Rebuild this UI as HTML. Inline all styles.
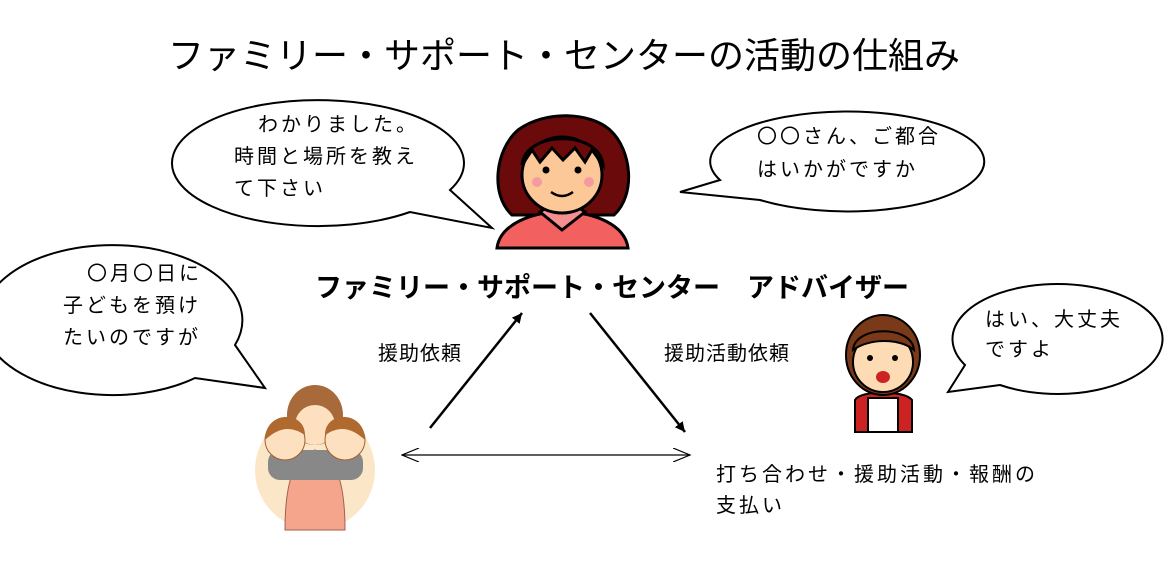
<!DOCTYPE html>
<html><head><meta charset="utf-8"><style>
html,body{margin:0;padding:0;background:#fff;}
svg{display:block;}
text{font-family:"Liberation Sans","Noto Sans CJK JP",sans-serif;fill:#000;}
</style></head><body>
<svg width="1174" height="572" viewBox="0 0 1174 572" xmlns="http://www.w3.org/2000/svg">
<defs><marker id="ah" markerWidth="12" markerHeight="12" refX="10" refY="5" orient="auto" markerUnits="userSpaceOnUse"><path d="M0,0 L10,5 L0,10 Z" fill="#000"/></marker>
<marker id="oa" markerWidth="20" markerHeight="14" refX="17" refY="7" orient="auto" markerUnits="userSpaceOnUse"><path d="M0,0 L17,7 L0,14" fill="none" stroke="#000" stroke-width="1.2"/></marker>
<marker id="ob" markerWidth="20" markerHeight="14" refX="1" refY="7" orient="auto" markerUnits="userSpaceOnUse"><path d="M18,0 L1,7 L18,14" fill="none" stroke="#000" stroke-width="1.2"/></marker></defs>
<text x="168" y="68" font-size="36">ファミリー・サポート・センターの活動の仕組み</text>

<g fill="#fff" stroke="#000" stroke-width="2">
<path d="M450,190 L492,228 L410,212 A146,63 0 1 1 450,190 Z"/>
<path d="M760,200 L680,192 L720,180 A137,50 0 1 1 760,200 Z"/>
<path d="M235,345 L265,388 L195,378 A130,75 0 1 1 235,345 Z"/>
<path d="M1000,385 L948,392 L965,365 A105,55 0 1 1 1000,385 Z"/>
</g>
<g font-size="20" letter-spacing="3" font-family="Noto Sans CJK JP, sans-serif">
<text x="258" y="131">わかりました。</text>
<text x="234" y="163">時間と場所を教え</text>
<text x="234" y="195">て下さい</text>
<text x="757" y="143">〇〇さん、ご都合</text>
<text x="757" y="176">はいかがですか</text>
<text x="87" y="280">〇月〇日に</text>
<text x="63" y="312">子どもを預け</text>
<text x="63" y="344">たいのですが</text>
<text x="985" y="326">はい、大丈夫</text>
<text x="985" y="356">ですよ</text>
<text x="378" y="360" letter-spacing="1">援助依頼</text>
<text x="664" y="360" letter-spacing="1">援助活動依頼</text>
<text x="716" y="481">打ち合わせ・援助活動・報酬の</text>
<text x="716" y="512">支払い</text>
</g>
<text x="315" y="297" font-size="27" font-weight="bold">ファミリー・サポート・センター　アドバイザー</text>

<line x1="430" y1="428" x2="522" y2="313" stroke="#000" stroke-width="2.5" marker-end="url(#ah)"/>
<line x1="590" y1="313" x2="685" y2="432" stroke="#000" stroke-width="2.5" marker-end="url(#ah)"/>
<line x1="402" y1="455" x2="690" y2="455" stroke="#000" stroke-width="1.2" marker-start="url(#ob)" marker-end="url(#oa)"/>

<!-- top woman -->
<g stroke="#000" stroke-width="3">
<path d="M512,215 C490,195 495,150 518,130 C545,110 590,112 610,130 C632,150 636,195 614,215 Z" fill="#6b0a0a"/>
<path d="M497,248 C500,225 530,212 562,212 C595,212 625,225 628,248 Z" fill="#f26060"/>
<path d="M540,212 L562,230 L585,212 L575,205 L550,205 Z" fill="#f49090"/>
<ellipse cx="562" cy="175" rx="40" ry="38" fill="#fdc897"/>
<path d="M522,165 C525,130 600,130 603,165 L592,150 L585,162 L575,148 L563,160 L552,148 L540,162 L532,150 Z" fill="#6b0a0a"/>
</g>
<circle cx="546" cy="170" r="3.5" fill="#000"/><circle cx="578" cy="170" r="3.5" fill="#000"/>
<circle cx="537" cy="182" r="5" fill="#f49aa0"/><circle cx="589" cy="182" r="5" fill="#f49aa0"/>
<path d="M551,192 Q562,200 573,192" stroke="#000" stroke-width="2.5" fill="none"/>

<!-- right woman -->
<g stroke="#000" stroke-width="2">
<path d="M855,432 L855,400 C860,390 905,390 912,400 L912,432 Z" fill="#c22"/>
<rect x="868" y="398" width="30" height="34" fill="#fff"/>
<ellipse cx="883" cy="355" rx="37" ry="40" fill="#7a3a1a"/>
<ellipse cx="883" cy="362" rx="30" ry="30" fill="#fddcb5"/>
<path d="M853,350 C855,325 912,325 914,350 C900,338 870,338 853,350 Z" fill="#7a3a1a"/>
</g>
<circle cx="870" cy="358" r="3" fill="#000"/><circle cx="895" cy="358" r="3" fill="#000"/>
<ellipse cx="883" cy="377" rx="7" ry="6" fill="#c22"/>

<!-- mother with children -->
<circle cx="315" cy="470" r="60" fill="#fbe6c8"/>
<path d="M285,530 C285,480 295,455 315,450 C335,455 345,480 345,530 Z" fill="#f4a58c" stroke="#a06050"/>
<ellipse cx="315" cy="415" rx="28" ry="30" fill="#a86a3a"/>
<ellipse cx="315" cy="425" rx="20" ry="20" fill="#fde0c0"/>
<rect x="268" y="450" width="95" height="30" rx="12" fill="#888"/>
<circle cx="285" cy="440" r="20" fill="#fde0c0" stroke="#a06030"/>
<path d="M265,440 C265,410 305,410 305,435 C290,425 278,428 265,440 Z" fill="#b06a30"/>
<circle cx="345" cy="440" r="20" fill="#fde0c0" stroke="#a06030"/>
<path d="M325,435 C325,410 365,410 365,440 C352,428 340,425 325,435 Z" fill="#b06a30"/>
</svg>
</body></html>
